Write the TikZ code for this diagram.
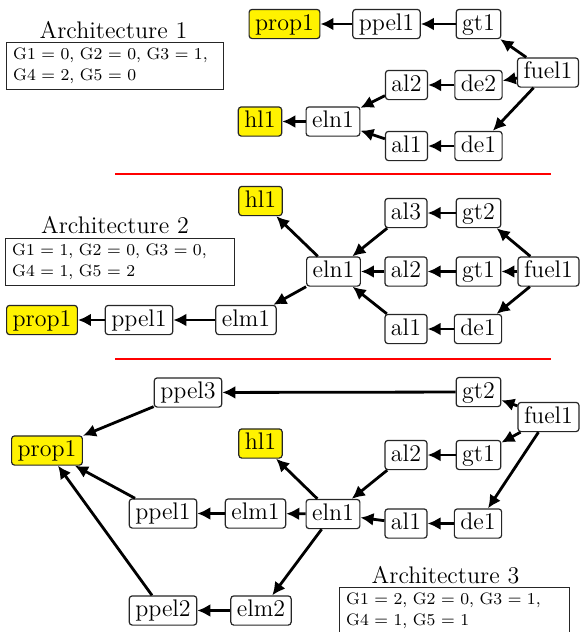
\documentclass[tikz,border=0pt]{standalone}
\usetikzlibrary{arrows.meta}
\begin{document}
\begin{tikzpicture}[x=0.5pt,y=-0.5pt,
  comp/.style={draw=black!85, line width=0.6pt, rounded corners=1.5pt, fill=white,
    font=\fontsize{12}{14.4}\selectfont, inner xsep=3pt, inner ysep=2pt,
    text height=8.3pt, text depth=2.3pt},
  goal/.style={comp, fill=yellow},
  flow/.style={-{Latex[length=6.5pt,width=6.5pt]}, line width=1.4pt},
  archtitle/.style={font=\fontsize{12}{14.4}\selectfont, anchor=base, inner sep=0pt},
  gbox/.style={draw=black!85, line width=0.6pt, anchor=north west, inner xsep=3.3pt,
    inner ysep=0pt, align=left, font=\fontsize{8.3}{10.5}\selectfont, minimum height=23.5pt},
  sepline/.style={red, line width=0.6pt}]
\useasboundingbox (0,0) rectangle (579,632);

% ---------- Architecture 1 ----------
\node[archtitle] (t1) at (113.5,38) {Architecture 1};
\node[gbox, text width=101.9pt] (g1) at (6,42) {G1 = 0, G2 = 0, G3 = 1,\\G4 = 2, G5 = 0};
\node[goal] (a1prop1) at (284.5,24) {prop1};
\node[comp] (a1ppel1) at (386.5,24) {ppel1};
\node[comp] (a1gt1) at (478.5,24) {gt1};
\node[comp] (a1fuel1) at (548,72.5) {fuel1};
\node[comp] (a1de2) at (478.5,85) {de2};
\node[comp] (a1al2) at (406.5,85) {al2};
\node[comp] (a1eln1) at (333,121.5) {eln1};
\node[goal] (a1hl1) at (260,121.5) {hl1};
\node[comp] (a1al1) at (406.5,146) {al1};
\node[comp] (a1de1) at (478.5,146) {de1};
\draw[flow] (a1gt1) -- (a1ppel1);
\draw[flow] (a1ppel1) -- (a1prop1);
\draw[flow] (a1fuel1) -- (a1gt1);
\draw[flow] (a1fuel1) -- (a1de2);
\draw[flow] (a1de2) -- (a1al2);
\draw[flow] (a1al2) -- (a1eln1);
\draw[flow] (a1eln1) -- (a1hl1);
\draw[flow] (a1fuel1) -- (a1de1);
\draw[flow] (a1de1) -- (a1al1);
\draw[flow] (a1al1) -- (a1eln1);

\coordinate (r1a) at (115,174);
\coordinate (r1b) at (551,174);
\draw[sepline] (r1a) -- (r1b);

% ---------- Architecture 2 ----------
\node[archtitle] (t2) at (115,233) {Architecture 2};
\node[gbox, text width=107.9pt] (g2) at (5,238) {G1 = 1, G2 = 0, G3 = 0,\\G4 = 1, G5 = 2};
\node[goal] (a2hl1) at (260.5,201) {hl1};
\node[comp] (a2al3) at (406,213) {al3};
\node[comp] (a2gt2) at (478.5,213) {gt2};
\node[comp] (a2eln1) at (333.5,271.5) {eln1};
\node[comp] (a2al2) at (406,271.5) {al2};
\node[comp] (a2gt1) at (478.5,271.5) {gt1};
\node[comp] (a2fuel1) at (548.5,271.5) {fuel1};
\node[comp] (a2al1) at (406,329) {al1};
\node[comp] (a2de1) at (478,329) {de1};
\node[goal] (a2prop1) at (42,320) {prop1};
\node[comp] (a2ppel1) at (139,320) {ppel1};
\node[comp] (a2elm1) at (246,320) {elm1};
\draw[flow] (a2gt2) -- (a2al3);
\draw[flow] (a2fuel1) -- (a2gt2);
\draw[flow] (a2fuel1) -- (a2gt1);
\draw[flow] (a2gt1) -- (a2al2);
\draw[flow] (a2al2) -- (a2eln1);
\draw[flow] (a2al3) -- (a2eln1);
\draw[flow] (a2fuel1) -- (a2de1);
\draw[flow] (a2de1) -- (a2al1);
\draw[flow] (a2al1) -- (a2eln1);
\draw[flow] (a2eln1) -- (a2hl1);
\draw[flow] (a2eln1) -- (a2elm1);
\draw[flow] (a2elm1) -- (a2ppel1);
\draw[flow] (a2ppel1) -- (a2prop1);

\coordinate (r2a) at (115,359);
\coordinate (r2b) at (551,359);
\draw[sepline] (r2a) -- (r2b);

% ---------- Architecture 3 ----------
\node[archtitle] (t3) at (445.5,583) {Architecture 3};
\node[gbox, text width=108.4pt] (g3) at (339,587) {G1 = 2, G2 = 0, G3 = 1,\\G4 = 1, G5 = 1};
\node[comp] (a3ppel3) at (188,392.5) {ppel3};
\node[comp] (a3gt2) at (478.5,392) {gt2};
\node[comp] (a3fuel1) at (548.5,417) {fuel1};
\node[goal] (a3prop1) at (47,450.5) {prop1};
\node[goal] (a3hl1) at (260.5,443.5) {hl1};
\node[comp] (a3al2) at (406,455) {al2};
\node[comp] (a3gt1) at (478.5,455) {gt1};
\node[comp] (a3ppel1) at (163,513.5) {ppel1};
\node[comp] (a3elm1) at (255.5,513.5) {elm1};
\node[comp] (a3eln1) at (333,514) {eln1};
\node[comp] (a3al1) at (406,523.5) {al1};
\node[comp] (a3de1) at (478,523.5) {de1};
\node[comp] (a3ppel2) at (163,610.5) {ppel2};
\node[comp] (a3elm2) at (261,610.5) {elm2};
\draw[flow] (a3fuel1) -- (a3gt2);
\draw[flow] (a3fuel1) -- (a3gt1);
\draw[flow] (a3fuel1) -- (a3de1);
\draw[flow] (a3gt2) -- (a3ppel3);
\draw[flow] (a3ppel3) -- (a3prop1);
\draw[flow] (a3gt1) -- (a3al2);
\draw[flow] (a3al2) -- (a3eln1);
\draw[flow] (a3de1) -- (a3al1);
\draw[flow] (a3al1) -- (a3eln1);
\draw[flow] (a3eln1) -- (a3hl1);
\draw[flow] (a3eln1) -- (a3elm1);
\draw[flow] (a3elm1) -- (a3ppel1);
\draw[flow] (a3ppel1) -- (a3prop1);
\draw[flow] (a3eln1) -- (a3elm2);
\draw[flow] (a3elm2) -- (a3ppel2);
\draw[flow] (a3ppel2) -- (a3prop1);
\end{tikzpicture}
\end{document}
